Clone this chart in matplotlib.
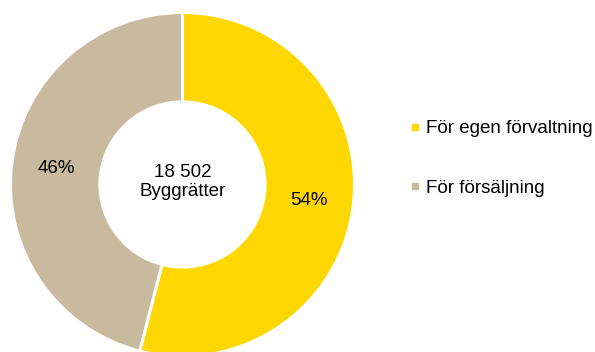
import matplotlib.pyplot as plt
from matplotlib.lines import Line2D

plt.rcParams['font.family'] = ['Liberation Sans', 'DejaVu Sans']

labels = ["För egen förvaltning", "För försäljning"]
shares = [54, 46]
colors = ["#FFD700", "#C9B99F"]
total_text = "18 502\nByggrätter"

W, H = 595, 352
fig = plt.figure(figsize=(W / 100, H / 100), dpi=100)

# donut centred at (182.5, 184.5) px from top, outer radius 172 px
cx, cy, R = 182.5, H - 184.5, 172
ax = fig.add_axes([(cx - R) / W, (cy - R) / H, 2 * R / W, 2 * R / H])

wedges, texts, autotexts = ax.pie(
    shares, colors=colors, startangle=90, counterclock=False,
    autopct=lambda p: f"{p:.0f}%", pctdistance=0.74,
    wedgeprops=dict(width=0.52, edgecolor="white", linewidth=2.2),
    textprops=dict(fontsize=13.5, color="black"),
)
for w in wedges:
    w.set_clip_on(False)
ax.set_xlim(-1, 1)
ax.set_ylim(-1, 1)
ax.set_aspect("equal")
ax.axis("off")

ax.text(0, 0.015, total_text, ha="center", va="center", fontsize=13.5,
        linespacing=1.2)

handles = [Line2D([], [], marker="s", linestyle="none", markersize=4.5,
                  markerfacecolor=c, markeredgecolor=c) for c in colors]
fig.legend(handles, labels, loc="center left",
           bbox_to_anchor=(400 / W, (H - 158.5) / H), frameon=False,
           fontsize=13.5, labelspacing=2.25, handlelength=0.6,
           handletextpad=0.3, borderpad=0)

fig.savefig("out.png", dpi=100)
